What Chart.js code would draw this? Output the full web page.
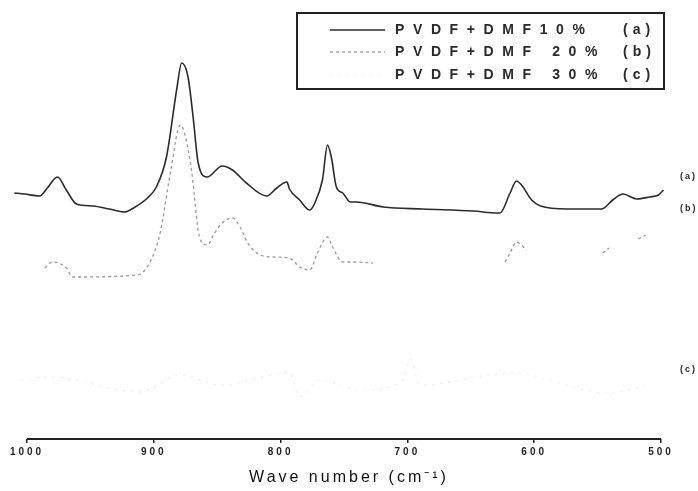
<!DOCTYPE html>
<html>
<head>
<meta charset="utf-8">
<script src="https://cdn.jsdelivr.net/npm/chart.js@4"></script>
<style>
  body { margin: 0; background: #fff; }
  #wrap { width: 698px; height: 491px; }
</style>
</head>
<body>
<div id="wrap"><canvas id="irChart" width="698" height="491"></canvas></div>
<script>
// wave numbers (cm-1) and relative intensity
const waveA = [1010, 1002, 990, 984, 976, 969, 961, 948, 935, 923, 916, 905, 898, 890, 882, 878, 873, 869, 865, 858, 846, 838, 827, 811, 803, 795, 793, 785, 777, 773, 767, 763, 760, 756, 751, 745, 740, 719, 688, 648, 629, 627, 619, 614, 610, 602, 595, 574, 547, 538, 530, 519, 509, 502, 498];
const valuesA = [246, 245, 243, 251, 262, 249, 235, 233, 230, 227, 231, 241, 252, 282, 349, 376, 362, 322, 276, 262, 273, 269, 256, 243, 251, 257, 250, 239, 229, 236, 259, 294, 282, 252, 246, 237, 237, 232, 230, 228, 226, 226, 246, 258, 254, 239, 233, 230, 230, 239, 245, 240, 242, 244, 249];

const waveB = [986, 980, 969, 964, 913, 903, 895, 887, 879, 875, 870, 864, 858, 852, 846, 838, 832, 826, 816, 806, 793, 785, 777, 771, 763, 759, 751, 743, 727, 700, 623, 619, 614, 606, 580, 546, 541, 530, 518, 512];
const valuesB = [171, 177, 171, 162, 164, 177, 206, 266, 314, 302, 266, 202, 194, 206, 216, 221, 212, 196, 184, 182, 181, 172, 169, 186, 202, 192, 177, 177, 176, null, 177, 186, 197, 189, null, 186, 191, null, 200, 204];

const waveC = [1005, 983, 911, 879, 848, 793, 785, 769, 737, 704, 698, 690, 617, 543, 509];
const valuesC = [59, 62, 47, 64, 54, 66, 42, 59, 49, 58, 80, 54, 66, 46, 54];

const seriesLabels = ['PVDF+DMF10%', 'PVDF+DMF 20%', 'PVDF+DMF 30%'];
const seriesTags = ['(a)', '(b)', '(c)'];
const tagLevels = [262, 230, 69];
const xTicks = [1000, 900, 800, 700, 600, 500];

const toPoints = (xs, ys) => xs.map((x, i) => ({ x, y: ys[i] }));

const legendBox = {
    id: 'legendBox',
    afterDraw(chart) {
        const ctx = chart.ctx;
        const sets = chart.data.datasets;
        ctx.save();
        ctx.strokeStyle = '#222';
        ctx.lineWidth = 2;
        ctx.strokeRect(297, 13, 367, 76);
        ctx.font = 'bold 14px "Liberation Sans", Arial, sans-serif';
        ctx.textBaseline = 'middle';
        ctx.fillStyle = '#2a2a2a';
        const rows = [30, 52, 75];
        sets.forEach((ds, i) => {
            const y = rows[i];
            ctx.beginPath();
            ctx.strokeStyle = ds.borderColor;
            ctx.lineWidth = ds.borderWidth;
            ctx.setLineDash(ds.borderDash || []);
            ctx.moveTo(330, y);
            ctx.lineTo(385, y);
            ctx.stroke();
            ctx.setLineDash([]);
            ctx.letterSpacing = '8.6px';
            ctx.textAlign = 'left';
            ctx.fillText(ds.label, 395, y);
            ctx.letterSpacing = '5px';
            ctx.fillText(seriesTags[i], 623, y);
        });
        // curve tags at the right edge
        ctx.font = 'bold 9px "Liberation Sans", Arial, sans-serif';
        ctx.letterSpacing = '2px';
        const ys = chart.scales.y;
        seriesTags.forEach((t, i) => {
            ctx.fillText(t, 680, ys.getPixelForValue(tagLevels[i]));
        });
        // axis line from 1000 to 500
        const xs = chart.scales.x;
        const yb = chart.chartArea.bottom;
        ctx.beginPath();
        ctx.strokeStyle = '#222';
        ctx.lineWidth = 2;
        ctx.moveTo(xs.getPixelForValue(1000), yb);
        ctx.lineTo(xs.getPixelForValue(500), yb);
        ctx.stroke();
        ctx.restore();
    }
};

const spacing = {
    id: 'spacing',
    beforeDraw(chart) { chart.ctx.letterSpacing = '3px'; }
};

const ctx = document.getElementById('irChart').getContext('2d');
new Chart(ctx, {
    type: 'line',
    data: {
        datasets: [
            { label: seriesLabels[0], data: toPoints(waveA, valuesA), borderColor: '#2b2b2b', borderWidth: 1.6, cubicInterpolationMode: 'monotone' },
            { label: seriesLabels[1], data: toPoints(waveB, valuesB), borderColor: '#9a9a9a', borderWidth: 1.3, borderDash: [3, 3], cubicInterpolationMode: 'monotone', spanGaps: false },
            { label: seriesLabels[2], data: toPoints(waveC, valuesC), borderColor: '#ececec', borderWidth: 1.2, borderDash: [2, 6], cubicInterpolationMode: 'monotone' },
        ],
    },
    options: {
        responsive: false,
        animation: false,
        layout: { padding: 0 },
        elements: { point: { radius: 0 } },
        scales: {
            x: {
                type: 'linear',
                reverse: true,
                min: 470.8,
                max: 1021.3,
                afterBuildTicks: (scale) => { scale.ticks = xTicks.map(v => ({ value: v })); },
                afterFit: (scale) => { scale.height = 52; },
                grid: { drawOnChartArea: false, tickLength: 4, color: '#222', lineWidth: 1.5 },
                border: { display: false },
                ticks: {
                    color: '#222',
                    padding: 3,
                    maxRotation: 0,
                    callback: (v) => String(v),
                    font: { family: '"Liberation Sans", Arial, sans-serif', size: 10, weight: 'bold' },
                },
                title: {
                    display: true,
                    text: 'Wave number (cm⁻¹)',
                    color: '#111',
                    padding: { top: 0, bottom: 4 },
                    font: { family: '"Liberation Sans", Arial, sans-serif', size: 16 },
                },
            },
            y: { display: false, min: 0, max: 439 },
        },
        plugins: { legend: { display: false }, tooltip: { enabled: false } },
    },
    plugins: [spacing, legendBox],
});
</script>
</body>
</html>
